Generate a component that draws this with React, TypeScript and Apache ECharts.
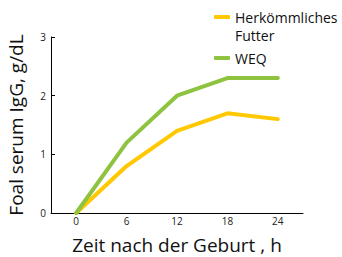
import React, { useEffect, useRef } from "react";
import * as echarts from "echarts";

const hours = ["0", "6", "12", "18", "24"];
const conventional = [0, 0.8, 1.4, 1.7, 1.6];
const weq = [0, 1.2, 2.0, 2.3, 2.3];
const seriesNames = ["Herkömmliches\nFutter", "WEQ"];
const colors = ["#FFC800", "#8DC33F"];

export default function App() {
  const ref = useRef<HTMLDivElement>(null);
  useEffect(() => {
    const chart = echarts.init(ref.current!, null, { renderer: "svg" });
    const font = "Open Sans";
    const legendBase = {
      orient: "vertical",
      left: 214,
      padding: 0,
      itemWidth: 16,
      itemHeight: 4,
      icon: "roundRect",
    };
    chart.setOption({
      animation: false,
      textStyle: { fontFamily: font },
      grid: { left: 51, top: 37, right: 39, bottom: 44, outerBoundsMode: "none" },
      legend: [
        {
          ...legendBase,
          top: -10,
          data: [seriesNames[0]],
          formatter: (name: string) => " \n" + name,
          textStyle: { fontFamily: font, fontSize: 14, color: "#111", lineHeight: 18 },
        },
        {
          ...legendBase,
          top: 49,
          data: [seriesNames[1]],
          textStyle: { fontFamily: font, fontSize: 14, color: "#111", lineHeight: 18 },
        },
      ],
      xAxis: {
        type: "category",
        data: hours,
        boundaryGap: true,
        name: "Zeit nach der Geburt , h",
        nameLocation: "middle",
        nameGap: 22,
        nameTextStyle: { fontFamily: font, fontSize: 19, color: "#111" },
        axisLine: { lineStyle: { color: "#000", width: 1 } },
        axisTick: { show: false },
        axisLabel: { fontSize: 10, color: "#222", margin: 3 },
      },
      yAxis: {
        type: "value",
        min: 0,
        max: 3,
        interval: 1,
        name: "Foal serum IgG, g/dL",
        nameLocation: "middle",
        nameGap: 26,
        nameTextStyle: { fontFamily: font, fontSize: 19, color: "#111" },
        axisLine: { show: true, lineStyle: { color: "#000", width: 1 } },
        axisTick: { show: true, inside: true, length: 4, lineStyle: { color: "#000" } },
        splitLine: { show: false },
        axisLabel: { fontSize: 10, color: "#222", margin: 5 },
      },
      series: [
        {
          name: seriesNames[0],
          type: "line",
          data: conventional,
          symbol: "none",
          lineStyle: { color: colors[0], width: 4, cap: "round" },
          itemStyle: { color: colors[0] },
        },
        {
          name: seriesNames[1],
          type: "line",
          data: weq,
          symbol: "none",
          lineStyle: { color: colors[1], width: 4, cap: "round" },
          itemStyle: { color: colors[1] },
        },
      ],
    });
    return () => chart.dispose();
  }, []);
  return <div ref={ref} style={{ width: 342, height: 257, position: "absolute", left: 0, top: 0 }} />;
}
